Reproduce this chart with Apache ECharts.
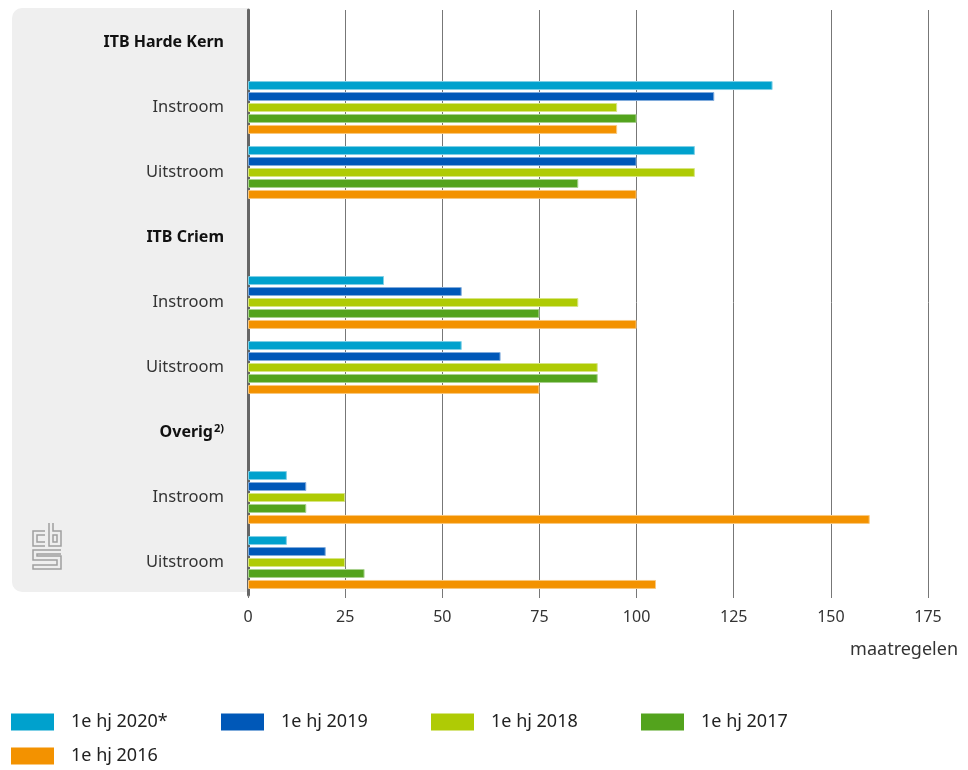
<!DOCTYPE html>
<html><head><meta charset="utf-8">
<script src="https://cdn.jsdelivr.net/npm/echarts@6/dist/echarts.min.js"></script>
<style>html,body{margin:0;padding:0;background:#fff}#c{width:968px;height:770px}</style>
</head><body><div id="c"></div>
<script>
const categoryKeys = ['h1','in1','out1','h2','in2','out2','h3','in3','out3'];
const categoryLabels = ['ITB Harde Kern','Instroom','Uitstroom','ITB Criem','Instroom','Uitstroom','Overig','Instroom','Uitstroom'];
const headerKeys = ['h1','h2','h3'];
const seriesNames = ['1e hj 2020*','1e hj 2019','1e hj 2018','1e hj 2017','1e hj 2016'];
const colors = ['#00a1cd','#0058b8','#afcb05','#53a31d','#f39200'];
const borderColors = ['#80d0e6','#80acdc','#d7e582','#a9d18e','#f9c980'];
const hj2020 = [null,135,115,null,35,55,null,10,10];
const hj2019 = [null,120,100,null,55,65,null,15,20];
const hj2018 = [null,95,115,null,85,90,null,25,25];
const hj2017 = [null,100,85,null,75,90,null,15,30];
const hj2016 = [null,95,100,null,100,75,null,160,105];
const xTicks = [0,25,50,75,100,125,150,175];
const seriesData = [hj2020,hj2019,hj2018,hj2017,hj2016];

const chart = echarts.init(document.getElementById('c'));
const F = 'Noto Sans';
const legendPos = [[11,713],[221,713],[431,713],[641,713],[11,747]];
chart.setOption({
  animation:false,
  textStyle:{fontFamily:F},
  grid:{left:248,right:40,top:10,bottom:175,containLabel:false},
  graphic:[
    {type:'rect',z:-10,shape:{x:12,y:8,width:236,height:584,r:[10,0,0,10]},style:{fill:'#efefef'}},
    {type:'group',z:-5,children:[
      {type:'polyline',shape:{points:[[45,531],[33,531],[33,546],[45,546]]},style:{stroke:'#a0a0a0',lineWidth:1.5,fill:null}},
      {type:'polyline',shape:{points:[[45,535],[37,535],[37,542],[45,542]]},style:{stroke:'#a0a0a0',lineWidth:1.5,fill:null}},
      {type:'polyline',shape:{points:[[49,523],[49,546],[61,546],[61,531],[53,531],[53,523]]},style:{stroke:'#a0a0a0',lineWidth:1.5,fill:null}},
      {type:'rect',shape:{x:53,y:535,width:4,height:7},style:{stroke:'#a0a0a0',lineWidth:1.5,fill:null}},
      {type:'polyline',shape:{points:[[61,550],[33,550],[33,560],[57,560],[57,565],[33,565],[33,569],[61,569],[61,556],[37,556],[37,554],[61,554]]},style:{stroke:'#a0a0a0',lineWidth:1.5,fill:null}}
    ]},
    {type:'text',right:10,top:641,style:{text:'maatregelen',font:'18px "Noto Sans"',fill:'#333'}}
  ],
  legend: seriesNames.map((n,i)=>({
    data:[n],left:legendPos[i][0],top:legendPos[i][1],padding:0,
    itemWidth:43,itemHeight:17,icon:'rect',
    itemStyle:{borderWidth:0},
    textStyle:{fontSize:18,color:'#222',fontFamily:F,padding:[0,0,0,12]},
    selectedMode:false
  })),
  xAxis:{
    type:'value',min:0,max:175,interval:25,
    axisLine:{show:false},
    axisTick:{show:true,length:3,lineStyle:{color:'#777'}},
    splitLine:{show:true,lineStyle:{color:'#777',width:1}},
    axisLabel:{fontSize:16,color:'#333',margin:14,fontFamily:F,
      formatter:v=>xTicks.includes(v)?String(v):''}
  },
  yAxis:{
    type:'category',data:categoryKeys,inverse:true,
    axisLine:{show:true,lineStyle:{color:'#666',width:3}},
    axisTick:{show:false},
    axisLabel:{margin:24,fontFamily:F,
      formatter:(v,i)=>{
        const lab = categoryLabels[i];
        if(v==='h3') return '{b|Overig}{s|2)}';
        if(headerKeys.includes(v)) return '{b|'+lab+'}';
        return '{n|'+lab+'}';
      },
      rich:{
        b:{fontSize:16,fontWeight:'bold',color:'#111',fontFamily:F},
        n:{fontSize:16.5,color:'#333',fontFamily:F},
        s:{fontSize:11,fontWeight:'bold',color:'#111',fontFamily:F,verticalAlign:'top',padding:[0,0,8,1]}
      }
    }
  },
  series: seriesNames.map((n,i)=>({
    name:n,type:'bar',data:seriesData[i],barWidth:9,barGap:'22%',
    itemStyle:{color:colors[i],borderColor:borderColors[i],borderWidth:1}
  }))
});
</script></body></html>
